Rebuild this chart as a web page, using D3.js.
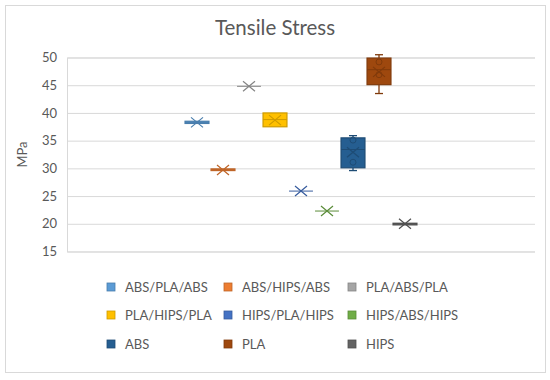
<!DOCTYPE html>
<html lang="en">
  <head>
    <meta charset="utf-8">
    <title>Tensile Stress</title>
    <script src="https://d3js.org/d3.v7.min.js"></script>
    <style>
      body { margin: 0; background: #fff; }
      text { font-family: Lato, "Open Sans", sans-serif; fill: #595959; }
    </style>
  </head>
  <body>
    <svg id="chart"></svg>
    <script>
      // data (MPa)
      const series = ["ABS/PLA/ABS", "ABS/HIPS/ABS", "PLA/ABS/PLA", "PLA/HIPS/PLA",
                      "HIPS/PLA/HIPS", "HIPS/ABS/HIPS", "ABS", "PLA", "HIPS"];
      const colors = ["#5B9BD5", "#ED7D31", "#A5A5A5", "#FFC000", "#4472C4",
                      "#70AD47", "#255E91", "#9E480E", "#636363"];
      const minVals    = [38.1, 29.6, 44.8, 37.5, 25.9, 22.3, 29.6, 43.5, 19.8];
      const q1Vals     = [38.1, 29.6, 44.8, 37.5, 25.9, 22.3, 30.1, 45.1, 19.8];
      const medianVals = [38.3, 29.8, 44.8, 38.8, 25.9, 22.3, 33.4, 47.8, 20.0];
      const q3Vals     = [38.5, 29.9, 44.8, 40.0, 25.9, 22.3, 35.5, 49.9, 20.1];
      const maxVals    = [38.5, 29.9, 44.8, 40.0, 25.9, 22.3, 35.9, 50.5, 20.1];
      const meanVals   = [38.3, 29.7, 44.8, 38.7, 25.9, 22.3, 32.9, 47.4, 20.0];
      const innerPoints = [[], [], [], [], [], [], [35.1, 31.1], [49.2, 46.9], []];
      const yTicks = [15, 20, 25, 30, 35, 40, 45, 50];

      const width = 550, height = 380;
      const plot = {left: 67, right: 535, top: 57.5, bottom: 251.5};

      const svg = d3.select("#chart").attr("width", width).attr("height", height);

      // chart frame
      svg.append("rect")
        .attr("x", 5.5).attr("y", 5.5)
        .attr("width", 540).attr("height", 367)
        .attr("fill", "#fff").attr("stroke", "#D9D9D9");

      svg.append("text")
        .attr("x", 275).attr("y", 35)
        .attr("text-anchor", "middle")
        .attr("font-size", 20.5)
        .text("Tensile Stress");

      const y = d3.scaleLinear().domain([15, 50]).range([plot.bottom, plot.top]);

      // series take the middle half of the single category
      const groupW = (plot.right - plot.left) / 2;
      const groupX = (plot.left + plot.right) / 2 - groupW / 2;
      const x = d3.scaleBand()
        .domain(series)
        .range([groupX, groupX + groupW])
        .paddingInner(0.08)
        .paddingOuter(0.04);

      // gridlines + tick labels
      const yAxis = d3.axisLeft(y).tickValues(yTicks).tickSize(-(plot.right - plot.left)).tickPadding(10);
      const ga = svg.append("g")
        .attr("transform", "translate(" + plot.left + ",0)")
        .call(yAxis);
      ga.select(".domain").attr("stroke", "#D9D9D9");
      ga.selectAll(".tick line").attr("stroke", "#D9D9D9");
      ga.selectAll(".tick text").attr("font-size", 13).attr("fill", "#595959")
        .style("font-family", "Lato, sans-serif");

      svg.append("text")
        .attr("transform", "translate(27," + ((plot.top + plot.bottom) / 2) + ") rotate(-90)")
        .attr("text-anchor", "middle")
        .attr("font-size", 13)
        .text("MPa");

      const line = c => d3.color(c).darker(0.6).formatHex();

      series.forEach(function(s, i) {
        const g = svg.append("g");
        const bx = x(s), bw = x.bandwidth(), cx = bx + bw / 2;
        const col = colors[i], stroke = line(col);

        // whiskers
        if (maxVals[i] > q3Vals[i]) {
          g.append("line").attr("x1", cx).attr("x2", cx)
            .attr("y1", y(q3Vals[i])).attr("y2", y(maxVals[i])).attr("stroke", stroke).attr("stroke-width", 1.3);
          g.append("line").attr("x1", cx - 4).attr("x2", cx + 4)
            .attr("y1", y(maxVals[i])).attr("y2", y(maxVals[i])).attr("stroke", stroke).attr("stroke-width", 1.3);
        }
        if (minVals[i] < q1Vals[i]) {
          g.append("line").attr("x1", cx).attr("x2", cx)
            .attr("y1", y(q1Vals[i])).attr("y2", y(minVals[i])).attr("stroke", stroke).attr("stroke-width", 1.3);
          g.append("line").attr("x1", cx - 4).attr("x2", cx + 4)
            .attr("y1", y(minVals[i])).attr("y2", y(minVals[i])).attr("stroke", stroke).attr("stroke-width", 1.3);
        }

        // box
        g.append("rect")
          .attr("x", bx).attr("width", bw)
          .attr("y", y(q3Vals[i]))
          .attr("height", y(q1Vals[i]) - y(q3Vals[i]))
          .attr("fill", col)
          .attr("stroke", stroke)
          .attr("stroke-width", 1.2);

        // median
        g.append("line").attr("x1", bx).attr("x2", bx + bw)
          .attr("y1", y(medianVals[i])).attr("y2", y(medianVals[i]))
          .attr("stroke", stroke).attr("stroke-width", 1);

        // inner points
        innerPoints[i].forEach(function(p) {
          g.append("circle").attr("cx", cx).attr("cy", y(p)).attr("r", 3)
            .attr("fill", "none").attr("stroke", stroke).attr("stroke-width", 1);
        });

        // mean marker (X)
        const my = y(meanVals[i]);
        g.append("path")
          .attr("d", "M" + (cx - 6) + "," + (my - 5) + "L" + (cx + 6) + "," + (my + 5) +
                     "M" + (cx - 6) + "," + (my + 5) + "L" + (cx + 6) + "," + (my - 5))
          .attr("stroke", stroke).attr("stroke-width", 1.2).attr("fill", "none");
      });

      // legend, 3 columns
      const legX = [107, 224, 348], legY = [287, 315, 344];
      const leg = svg.selectAll(".leg").data(series).enter().append("g")
        .attr("class", "leg")
        .attr("transform", (d, i) => "translate(" + legX[i % 3] + "," + legY[Math.floor(i / 3)] + ")");
      leg.append("rect").attr("x", 0).attr("y", -4).attr("width", 8).attr("height", 8)
        .attr("fill", (d, i) => colors[i]).attr("stroke", (d, i) => line(colors[i])).attr("stroke-width", 0.8);
      leg.append("text").attr("x", 18).attr("y", 0).attr("dy", "0.35em")
        .attr("font-size", 13).text(d => d);
    </script>
  </body>
</html>
